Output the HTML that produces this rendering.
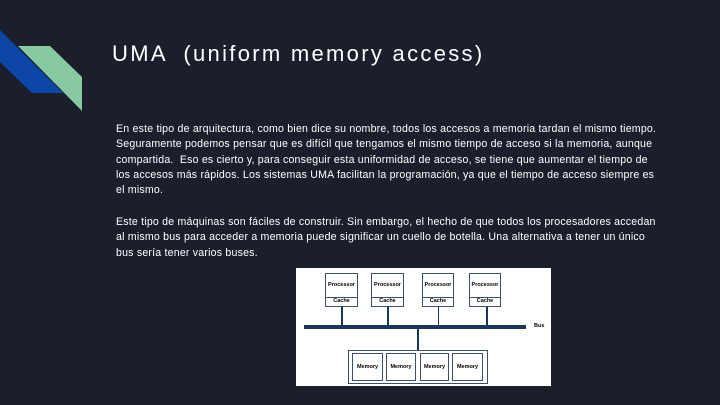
<!DOCTYPE html>
<html><head><meta charset="utf-8"><style>
body{margin:0;width:720px;height:405px;background:#1b1f2b;overflow:hidden;position:relative;font-family:"Liberation Sans",sans-serif;}
.t{position:absolute;left:112px;top:41px;color:#fff;font-size:22px;font-weight:300;letter-spacing:2.3px;white-space:nowrap}
.p{position:absolute;left:116px;color:#fff;font-size:10.6px;line-height:15.3px;white-space:nowrap;letter-spacing:0.2px}
.d{position:absolute;left:296px;top:268px;width:255px;height:118px;background:#fff}
.b{position:absolute;border:1.5px solid #3d4f6a;background:#fff;box-sizing:border-box;font-size:5.5px;color:#000;text-align:center;font-weight:bold}
.l{position:absolute;background:#1a3560}
</style></head><body>
<svg width="100" height="120" style="position:absolute;left:0;top:0">
<polygon points="0,30 63,93 32,93 0,62" fill="#0c47a8"/>
<polygon points="18,46 50,46 82,77 82,111" fill="#86c9a2"/>
</svg>
<div class="t">UMA &nbsp;(uniform memory access)</div>
<div class="p" style="top:122px">En este tipo de arquitectura, como bien dice su nombre, todos los accesos a memoria tardan el mismo tiempo.<br>Seguramente podemos pensar que es difícil que tengamos el mismo tiempo de acceso si la memoria, aunque<br>compartida. &nbsp;Eso es cierto y, para conseguir esta uniformidad de acceso, se tiene que aumentar el tiempo de<br>los accesos más rápidos. Los sistemas UMA facilitan la programación, ya que el tiempo de acceso siempre es<br>el mismo.</div>
<div class="p" style="top:215px">Este tipo de máquinas son fáciles de construir. Sin embargo, el hecho de que todos los procesadores accedan<br>al mismo bus para acceder a memoria puede significar un cuello de botella. Una alternativa a tener un único<br>bus sería tener varios buses.</div>
<div class="d"></div>
<div class="b" style="left:325px;top:273px;width:33px;height:34px"><div style="height:23px;line-height:23px;border-bottom:1px solid #3d4f6a">Processor</div>Cache</div>
<div class="b" style="left:371px;top:273px;width:33px;height:34px"><div style="height:23px;line-height:23px;border-bottom:1px solid #3d4f6a">Processor</div>Cache</div>
<div class="b" style="left:422px;top:273px;width:32px;height:34px"><div style="height:23px;line-height:23px;border-bottom:1px solid #3d4f6a">Processor</div>Cache</div>
<div class="b" style="left:469px;top:273px;width:32px;height:34px"><div style="height:23px;line-height:23px;border-bottom:1px solid #3d4f6a">Processor</div>Cache</div>
<div class="l" style="left:341px;top:307px;width:2px;height:19px"></div>
<div class="l" style="left:387px;top:307px;width:2px;height:19px"></div>
<div class="l" style="left:438px;top:307px;width:1px;height:19px"></div>
<div class="l" style="left:486px;top:307px;width:2px;height:19px"></div>
<div class="l" style="left:304px;top:325px;width:222px;height:3.5px"></div>
<div style="position:absolute;left:534px;top:323px;font-size:5.5px;color:#000;font-weight:bold">Bus</div>
<div class="l" style="left:417px;top:328px;width:2px;height:23px"></div>
<div class="b" style="left:348px;top:350px;width:140px;height:34px"></div>
<div class="b" style="left:352px;top:353px;width:31px;height:28px;line-height:26px">Memory</div>
<div class="b" style="left:386px;top:353px;width:30px;height:28px;line-height:26px">Memory</div>
<div class="b" style="left:420px;top:353px;width:29px;height:28px;line-height:26px">Memory</div>
<div class="b" style="left:452px;top:353px;width:31px;height:28px;line-height:26px">Memory</div>
</body></html>
